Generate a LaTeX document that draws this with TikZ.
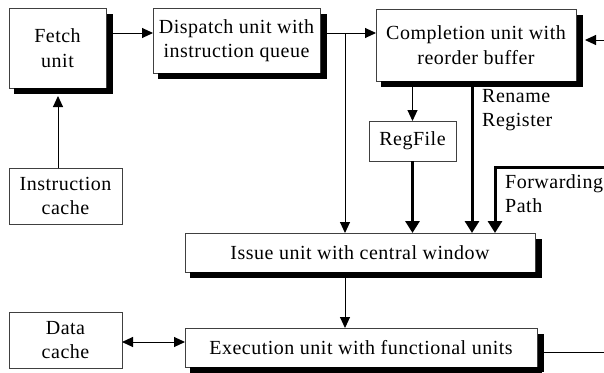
\documentclass[tikz,border=0pt]{standalone}
\usepackage{fontspec}
\setmainfont[LetterSpace=2.5]{Liberation Serif}
\usetikzlibrary{arrows.meta}
\begin{document}
\begin{tikzpicture}[x=1pt,y=-1pt,
  txt/.style={font=\fontsize{20}{24.5}\selectfont, align=center, inner sep=0pt, outer sep=0pt},
  plainbox/.style={txt, draw=black!75, line width=0.9pt},
  shbox/.style={plainbox},
  shline/.style={line width=3pt, draw=black},
  thinarr/.style={line width=1pt, -{Triangle[length=11pt,width=10pt]}},
  thickarr/.style={line width=3pt, -{Triangle[length=12pt,width=14pt]}},
  twoarr/.style={line width=1pt, {Triangle[length=11pt,width=10pt]}-{Triangle[length=11pt,width=10pt]}},
  lbl/.style={font=\fontsize{20}{24.5}\selectfont, align=left, inner sep=0pt, anchor=north west}
]
\useasboundingbox (0,0) rectangle (604,372);

% boxes
\node[shbox, minimum width=97pt, minimum height=80pt] (fetch) at (57.5,48) {Fetch\\unit};
\node[shbox, minimum width=167pt, minimum height=65pt] (disp) at (236.5,40.5) {Dispatch unit with\\instruction queue};
\node[shbox, minimum width=200pt, minimum height=72pt] (compl) at (476,45) {Completion unit with\\reorder buffer};
\node[plainbox, minimum width=87pt, minimum height=40pt] (reg) at (412.5,141) {RegFile};
\node[plainbox, minimum width=113pt, minimum height=56pt] (icache) at (65.5,196) {Instruction\\cache};
\node[shbox, minimum width=350pt, minimum height=39pt] (issue) at (360,252.5) {Issue unit with central window};
\node[plainbox, minimum width=113pt, minimum height=56pt] (dcache) at (65.5,340) {Data\\cache};
\node[shbox, minimum width=352pt, minimum height=39pt] (exec) at (361,347.5) {Execution unit with functional units};

% shadows as thick strokes (right strip 5pt, bottom strip 6pt)
\draw[shline] (111.5,14) -- (111.5,94);
\draw[shline] (108.5,14) -- (108.5,94);
\draw[shline] (14,92.5) -- (111,92.5);
\draw[shline] (14,89.5) -- (111,89.5);

\draw[shline] (325.5,14) -- (325.5,79);
\draw[shline] (322.5,14) -- (322.5,79);
\draw[shline] (158,77.5) -- (325,77.5);
\draw[shline] (158,74.5) -- (325,74.5);

\draw[shline] (581.5,15) -- (581.5,87);
\draw[shline] (578.5,15) -- (578.5,87);
\draw[shline] (381,85.5) -- (581,85.5);
\draw[shline] (381,82.5) -- (581,82.5);

\draw[shline] (540.5,239) -- (540.5,278);
\draw[shline] (537.5,239) -- (537.5,278);
\draw[shline] (190,276.5) -- (540,276.5);
\draw[shline] (190,273.5) -- (540,273.5);

\draw[shline] (542.5,334) -- (542.5,372);
\draw[shline] (539.5,334) -- (539.5,372);
\draw[shline] (190,371.5) -- (542,371.5);
\draw[shline] (190,368.5) -- (542,368.5);

% labels
\node[lbl] (rename) at (482,89) {Rename\\Register};
\node[lbl] (fwd) at (505,174) {Forwarding\\Path};

% helper coordinates
\coordinate (r1) at (0,33);
\coordinate (j) at (345,33);
\coordinate (xin) at (604,40);
\coordinate (fwdin) at (604,167);
\coordinate (fwdc) at (495,167);
\coordinate (ren) at (472,0);
\coordinate (icx) at (58,0);
\coordinate (r2) at (0,342);
\coordinate (r3) at (0,352);
\coordinate (xout) at (604,352);

% connectors
\draw[thinarr] ([xshift=5pt]fetch.east |- r1) -- (disp.west |- r1);
\draw[thinarr] ([xshift=5pt]disp.east |- r1) -- (compl.west |- r1);
\draw[thinarr] (j) -- (j |- issue.north);
\draw[thinarr] (xin) -- ([xshift=9pt]compl.east |- xin);
\draw[thinarr] (icx |- icache.north) -- ([yshift=-8pt]icx |- fetch.south);
\draw[thinarr] ([yshift=-6pt]reg.north |- compl.south) -- (reg.north);
\draw[thickarr] (reg.south) -- (reg.south |- issue.north);
\draw[thickarr] ([yshift=-6pt]ren |- compl.south) -- (ren |- issue.north);
\draw[thickarr] (fwdin) -- (fwdc) -- (fwdc |- issue.north);
\draw[thinarr] ([yshift=-5pt]j |- issue.south) -- (j |- exec.north);
\draw[twoarr] (dcache.east |- r2) -- (exec.west |- r2);
\draw[line width=1pt] ([xshift=5pt]exec.east |- r3) -- (xout);
\end{tikzpicture}
\end{document}
